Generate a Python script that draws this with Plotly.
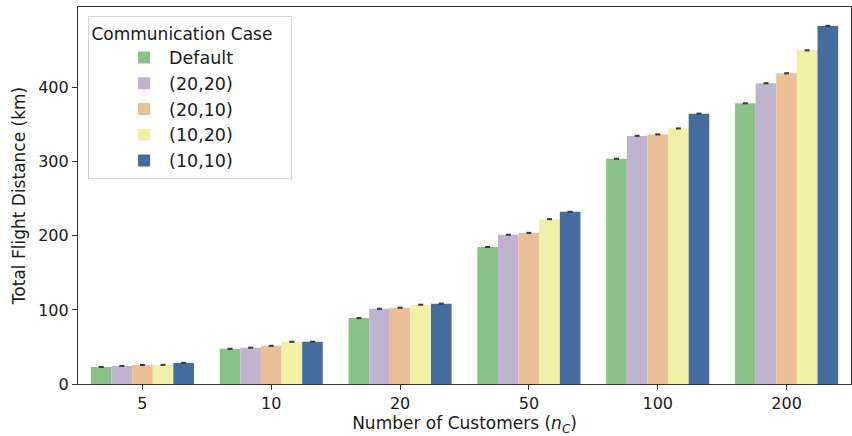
import plotly.graph_objects as go

categories = ["5", "10", "20", "50", "100", "200"]
series_names = ["Default", "(20,20)", "(20,10)", "(10,20)", "(10,10)"]
default_vals = [23, 47.5, 89, 185, 304, 379]
v20_20 = [24.4, 49, 101.5, 201.5, 335, 406]
v20_10 = [25.6, 51.5, 103, 204, 337, 419.5]
v10_20 = [25.8, 57, 107, 222.5, 345, 450.5]
v10_10 = [28.5, 57, 108.5, 232.5, 365, 483.5]
err_vals = [1.4, 1.4, 1.4, 1.4, 1.4, 1.4]
colors = ["#8bc087", "#c0b3d0", "#ecc096", "#f0f0a6", "#456c9e"]

series = [default_vals, v20_20, v20_10, v10_20, v10_10]

fig = go.Figure()
for name, vals, col in zip(series_names, series, colors):
    fig.add_trace(go.Bar(
        x=categories, y=vals, name=name,
        marker=dict(color=col, line=dict(width=0)),
        error_y=dict(type="data", array=err_vals, visible=True,
                     color="#3a3a3a", thickness=5, width=0),
    ))

font_family = "DejaVu Sans"
fig.update_layout(
    width=852, height=436,
    barmode="group", bargap=0.2, bargroupgap=0,
    paper_bgcolor="white", plot_bgcolor="white",
    margin=dict(l=78, r=1, t=7, b=52, autoexpand=False),
    font=dict(family=font_family, size=16, color="#1a1a1a"),
    legend=dict(
        title=dict(text="Communication Case   ", side="top center",
                   font=dict(size=17)),
        x=0.013, y=0.975, xanchor="left", yanchor="top",
        bgcolor="rgba(255,255,255,0.85)", bordercolor="#d6d6d6",
        borderwidth=1, font=dict(size=17.5), tracegroupgap=8,
        itemwidth=40, indentation=30,
    ),
    xaxis=dict(
        type="category", range=[-0.5, 5.5], automargin=False,
        showline=True, linecolor="#333", linewidth=1.2, mirror=True,
        ticks="outside", ticklen=5, tickcolor="#333",
        tickfont=dict(size=16),
        title=dict(text="Number of Customers (<i>n</i><sub><i>C</i></sub>)",
                   font=dict(size=17)),
        showgrid=False,
    ),
    yaxis=dict(
        range=[0, 509], automargin=False,
        tickvals=[0, 100, 200, 300, 400],
        showline=True, linecolor="#333", linewidth=1.2, mirror=True,
        ticks="outside", ticklen=5, tickcolor="#333",
        tickfont=dict(size=16),
        title=dict(text="Total Flight Distance (km)", font=dict(size=17),
                   standoff=8),
        showgrid=False, zeroline=False,
    ),
)

fig.write_html(
    "out.html",
    config={"displayModeBar": False},
    post_script="document.body.style.margin='0';document.body.style.overflow='hidden';",
)
